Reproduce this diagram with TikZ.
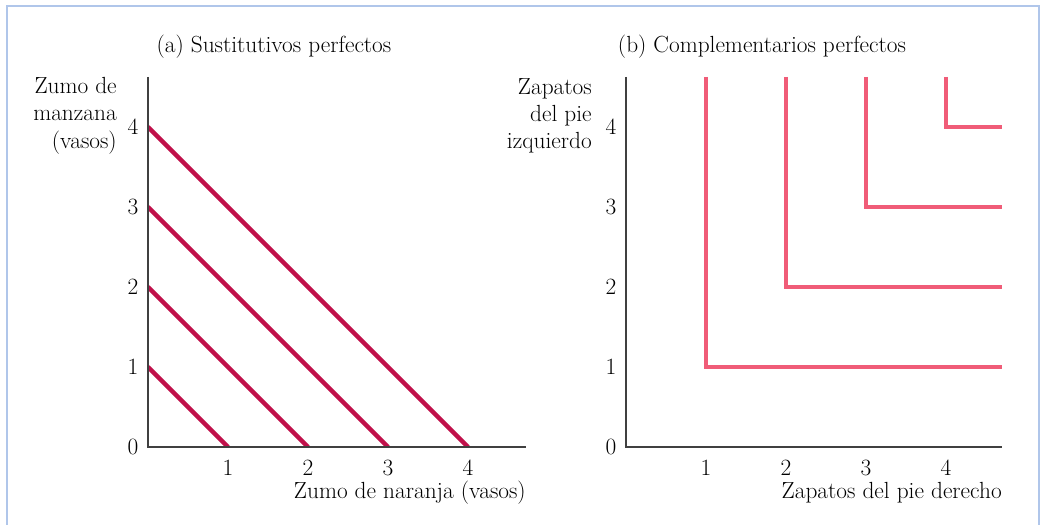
\documentclass[tikz,border=0pt]{standalone}
\usetikzlibrary{positioning}
\definecolor{framecol}{RGB}{176,198,234}
\definecolor{subscol}{RGB}{192,16,74}
\definecolor{compcol}{RGB}{240,92,120}

\begin{document}
\begin{tikzpicture}[x=60pt, y=60pt, font=\fontsize{17.5}{20.6}\selectfont,
    axis/.style={draw=black!75, line width=1pt},
    subsline/.style={draw=subscol, line width=3.4pt},
    compline/.style={draw=compcol, line width=3.4pt, line join=miter},
    lbl/.style={inner sep=0pt, align=right},
    ticklbl/.style={inner sep=0pt}]
        %
        \useasboundingbox (-1.85,-0.975) rectangle (11.1875,5.5875);
        \draw[framecol, line width=1.6pt] (-1.7625,-1) -- (-1.7625,5.5125) -- (11.1375,5.5125) -- (11.1375,-1);
        %
        % (a) sustitutivos perfectos
        \coordinate (oa) at (0,0);
        \coordinate (ya) at (0,4.625);
        \coordinate (xa) at (4.725,0);
        \node (ta) at (1.575,5.0) {(a) Sustitutivos perfectos};
        \begin{scope}
            \clip (oa) rectangle (4.725,4.625);
            \foreach \k in {1,...,4}
                \draw[subsline] (0,\k) -- (\k,0);
        \end{scope}
        \draw[axis] (ya) -- (oa) -- (xa);
        \node[ticklbl] (a0) at (-0.1875,0) {0};
        \foreach \k in {1,...,4} {
            \node[ticklbl] (ay\k) at (-0.1875,\k) {\k};
            \node[ticklbl] (ax\k) at (\k,-0.2625) {\k};
        }
        \node[lbl, anchor=east] (la) at (-0.3875,4.14) {Zumo de\\manzana\\(vasos)};
        \node[lbl, anchor=east] (ka) at (4.725,-0.575) {Zumo de naranja (vasos)};
        %
        % (b) complementarios perfectos
        \begin{scope}[xshift=5.975*60pt]
            \coordinate (ob) at (0,0);
            \coordinate (yb) at (0,4.625);
            \coordinate (xb) at (4.7,0);
            \node (tb) at (1.7,5.0) {(b) Complementarios perfectos};
            \foreach \k in {1,...,4}
                \draw[compline] (\k,4.625) -- (\k,\k) -- (4.7,\k);
            \draw[axis] (yb) -- (ob) -- (xb);
            \node[ticklbl] (b0) at (-0.1875,0) {0};
            \foreach \k in {1,...,4} {
                \node[ticklbl] (by\k) at (-0.1875,\k) {\k};
                \node[ticklbl] (bx\k) at (\k,-0.2625) {\k};
            }
            \node[lbl, anchor=east] (lb) at (-0.425,4.14) {Zapatos\\del pie\\izquierdo};
            \node[lbl, anchor=east] (kb) at (4.7,-0.575) {Zapatos del pie derecho};
        \end{scope}
\end{tikzpicture}
\end{document}
